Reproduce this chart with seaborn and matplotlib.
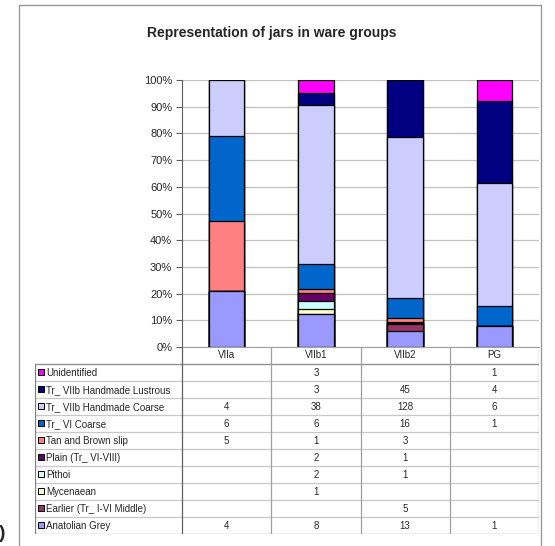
import matplotlib
matplotlib.use("Agg")
import matplotlib.pyplot as plt
from matplotlib.lines import Line2D
from matplotlib.patches import Rectangle
from matplotlib.ticker import PercentFormatter
import numpy as np
import pandas as pd
import seaborn as sns

# ware groups (columns) and ware types (stack order, bottom -> top)
groups = ["VIIa", "VIIb1", "VIIb2", "PG"]
wares = ["Anatolian Grey", "Earlier (Tr_ I-VI Middle)", "Mycenaean", "Pithoi",
         "Plain (Tr_ VI-VIII)", "Tan and Brown slip", "Tr_ VI Coarse",
         "Tr_ VIIb Handmade Coarse", "Tr_ VIIb Handmade Lustrous", "Unidentified"]

anatolian_grey = [4, 8, 13, 1]
earlier = [0, 0, 5, 0]
mycenaean = [0, 1, 0, 0]
pithoi = [0, 2, 1, 0]
plain = [0, 2, 1, 0]
tan_brown = [5, 1, 3, 0]
vi_coarse = [6, 6, 16, 1]
viib_coarse = [4, 38, 128, 6]
viib_lustrous = [0, 3, 45, 4]
unidentified = [0, 3, 0, 1]

colours = ["#9999FF", "#993366", "#FFFFCC", "#CCFFFF", "#660066",
           "#FF8080", "#0066CC", "#CCCCFF", "#000080", "#FF00FF"]

counts = pd.DataFrame([anatolian_grey, earlier, mycenaean, pithoi, plain, tan_brown,
                       vi_coarse, viib_coarse, viib_lustrous, unidentified],
                      index=wares, columns=groups)
share = counts / counts.sum(axis=0)
cum = share.cumsum(axis=0)

sns.set_style("white")
plt.rcParams["font.family"] = ["Liberation Sans", "DejaVu Sans"]

W, H = 555, 546
fig = plt.figure(figsize=[W / 100, H / 100], dpi=100)

# chart area
ax = fig.add_axes([182 / W, 1 - 347 / H, (539 - 182) / W, (347 - 80) / H])
for ware, col in reversed(list(zip(wares, colours))):
    sns.barplot(x=groups, y=cum.loc[ware].values, color=col, saturation=1,
                width=0.4, edgecolor="black", linewidth=0.9, ax=ax)

ax.set_xlim(-0.5, len(groups) - 0.5)
ax.set_ylim(0, 1)
ax.set_yticks(np.arange(0, 1.01, 0.1))
ax.yaxis.set_major_formatter(PercentFormatter(1.0, decimals=0))
ax.yaxis.grid(True, color="#c0c0c0", linewidth=0.9)
ax.set_axisbelow(True)
ax.set_xticks([])
ax.set_xlabel("")
ax.tick_params(axis="y", labelsize=8, length=4, width=0.8, color="#606060",
               left=True, pad=3)
for s in ["top", "right"]:
    ax.spines[s].set_visible(False)
ax.spines["left"].set_color("#606060")
ax.spines["bottom"].set_color("#a0a0a0")

# data table
tab = fig.add_axes([35 / W, 1 - 534 / H, (539 - 35) / W, (534 - 347) / H])
tab.set_xlim(35, 539)
tab.set_ylim(534, 347)
tab.axis("off")

col_edges = np.linspace(182, 539, len(groups) + 1)
col_mid = (col_edges[:-1] + col_edges[1:]) / 2
row_top = 364
row_h = 17
n_rows = len(wares)

for i, g in enumerate(groups):
    tab.text(col_mid[i], (347 + row_top) / 2, g, ha="center", va="center", fontsize=7)

for k in range(n_rows + 1):
    yy = row_top + k * row_h
    c = "#808080" if k == n_rows else "#c8c8c8"
    tab.plot([35, 539], [yy, yy], color=c, lw=0.9, solid_capstyle="butt")
tab.plot([35, 539], [row_top, row_top], color="#909090", lw=0.9)
tab.plot([35, 35], [row_top, 534], color="#808080", lw=0.9)
for i, xe in enumerate(col_edges):
    c = "#606060" if i == 0 else ("#808080" if i == len(groups) else "#a0a0a0")
    tab.plot([xe, xe], [347, 534], color=c, lw=0.9)

for r, (ware, col) in enumerate(reversed(list(zip(wares, colours)))):
    yc = row_top + r * row_h + row_h / 2
    tab.add_patch(Rectangle((37.5, yc - 3.5), 6.5, 6.5, facecolor=col,
                            edgecolor="black", lw=0.7))
    tab.text(46, yc + 0.5, ware, ha="left", va="center", fontsize=7)
    for i, g in enumerate(groups):
        v = counts.loc[ware, g]
        if v:
            tab.text(col_mid[i], yc + 0.5, str(v), ha="center", va="center", fontsize=7)

# outer frame of the chart object
fx0, fx1, fy = 19 / W, 541 / W, 1 - 5 / H
for xs, ys in [([fx0, fx0], [0, fy]), ([fx0, fx1], [fy, fy]), ([fx1, fx1], [fy, 0])]:
    fig.add_artist(Line2D(xs, ys, transform=fig.transFigure, color="#999999", lw=1))

fig.text(272 / W, 1 - 33 / H, "Representation of jars in ware groups",
         ha="center", va="center", fontsize=10, fontweight="bold")
fig.text(-1 / W, 1 - 534 / H, ")", ha="left", va="center", fontsize=14, fontweight="bold")

fig.savefig("out.png", dpi=100)
